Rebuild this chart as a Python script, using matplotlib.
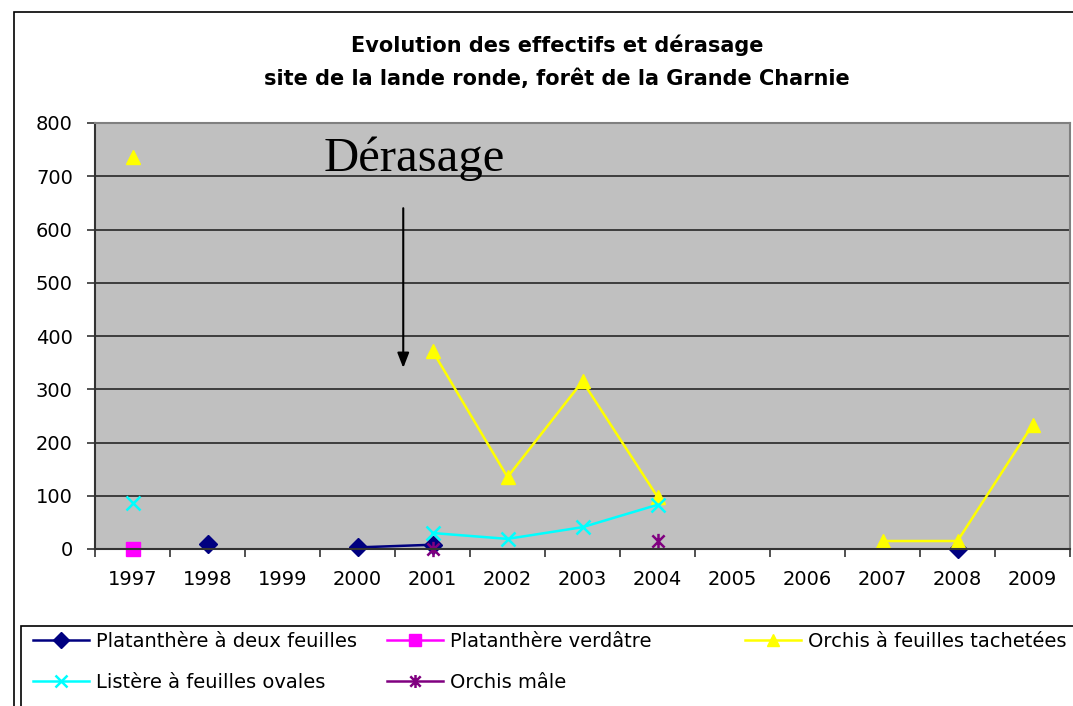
import numpy as np
import matplotlib
matplotlib.use("Agg")
import matplotlib.pyplot as plt
from matplotlib.patches import Rectangle
from matplotlib.path import Path

nan = np.nan
years = ["1997", "1998", "1999", "2000", "2001", "2002", "2003",
         "2004", "2005", "2006", "2007", "2008", "2009"]
plat_deux = [nan, 10, nan, 3, 8, nan, nan, nan, nan, nan, nan, 0, nan]
plat_verd = [0, nan, nan, nan, nan, nan, nan, nan, nan, nan, nan, nan, nan]
orchis_tach = [737, nan, nan, nan, 372, 135, 315, 98, nan, nan, 15, 15, 233]
listere = [86, nan, nan, nan, 30, 19, 41, 83, nan, nan, nan, nan, nan]
orchis_male = [nan, nan, nan, nan, 0, nan, nan, 15, nan, nan, nan, nan, nan]

series_names = ["Platanthère à deux feuilles", "Platanthère verdâtre",
                "Orchis à feuilles tachetées", "Listère à feuilles ovales",
                "Orchis mâle"]

title = "Evolution des effectifs et dérasage\nsite de la lande ronde, forêt de la Grande Charnie"
annot_text = "Dérasage"
arrow_x = 3.61
arrow_y_start = 640
arrow_y_end = 340

W, H = 1073, 706
plt.rcParams['font.family'] = ['DejaVu Sans']
fig = plt.figure(figsize=(W / 100, H / 100), dpi=100)

# outer chart border (extends beyond the image on right/bottom)
fig.patches.append(Rectangle((14 / W, -0.1), 1.2, 1 - 12 / H + 0.1,
                             transform=fig.transFigure, fill=False,
                             edgecolor='black', linewidth=1.2, zorder=0))

ax = fig.add_axes([95 / W, 1 - 549 / H, (1070 - 95) / W, (549 - 123) / H])
ax.set_facecolor('#C0C0C0')
x = np.arange(len(years))

ax.set_xlim(-0.5, len(years) - 0.5)
ax.set_ylim(0, 800)
ax.set_yticks(np.arange(0, 801, 100))
ax.set_xticks(x)
ax.set_xticklabels(years)
ax.set_xticks(np.arange(-0.5, len(years), 1), minor=True)
ax.tick_params(axis='x', which='major', length=0, pad=15, labelsize=14)
ax.tick_params(axis='x', which='minor', length=6, width=1.2, color='#333333', direction='out')
ax.tick_params(axis='y', length=6, width=1.2, color='#333333', direction='out', pad=10, labelsize=14)
ax.grid(axis='y', color='#333333', linewidth=1.3)
ax.set_axisbelow(True)
for s in ['top', 'right']:
    ax.spines[s].set_color('#808080')
    ax.spines[s].set_linewidth(1.5)
for s in ['left', 'bottom']:
    ax.spines[s].set_color('#333333')
    ax.spines[s].set_linewidth(1.5)

ast = Path([(-1, -1), (1, 1), (-1, 1), (1, -1), (0, -1.25), (0, 1.25)],
           [Path.MOVETO, Path.LINETO, Path.MOVETO, Path.LINETO, Path.MOVETO, Path.LINETO])

styles = [
    dict(color='#000080', marker='D', ms=9, mfc='#000080', mec='#000080'),
    dict(color='#FF00FF', marker='s', ms=10, mfc='#FF00FF', mec='#FF00FF'),
    dict(color='#FFFF00', marker='^', ms=10.5, mfc='#FFFF00', mec='#FFFF00'),
    dict(color='#00FFFF', marker='x', ms=10, mew=1.8),
    dict(color='#800080', marker=ast, ms=11, mew=1.8),
]
data = [plat_deux, plat_verd, orchis_tach, listere, orchis_male]
handles = []
for d, st, name in zip(data, styles, series_names):
    ln, = ax.plot(x, d, linewidth=1.8, label=name, clip_on=False, **st)
    handles.append(ln)

ax.text(3.76, 733, annot_text, family=['Liberation Serif', 'DejaVu Serif'],
        fontsize=35, ha='center', va='center')
ax.annotate("", xy=(arrow_x, arrow_y_end), xytext=(arrow_x, arrow_y_start),
            arrowprops=dict(arrowstyle='-|>,head_length=0.9,head_width=0.35',
                            color='black', linewidth=1.5, shrinkA=0, shrinkB=0))

fig.text(557 / W, 1 - 62 / H, title, ha='center', va='center',
         fontsize=15, fontweight='bold', linespacing=1.75)

# legend box
fig.patches.append(Rectangle((21 / W, -0.1), 1.2, 1 - 626 / H + 0.1,
                             transform=fig.transFigure, fill=False,
                             edgecolor='black', linewidth=1.2, zorder=1))
cols = [[0, 3], [1, 4], [2]]
col_x = [17, 371, 729]
for cx, idxs in zip(col_x, cols):
    fig.legend([handles[i] for i in idxs], [series_names[i] for i in idxs],
               loc='upper left', bbox_to_anchor=(cx / W, 1 - 616 / H),
               frameon=False, fontsize=14, handlelength=2.9,
               handletextpad=0.35, labelspacing=1.15, borderpad=0.3,
               markerscale=0.85)

fig.savefig("out.png", dpi=100)
